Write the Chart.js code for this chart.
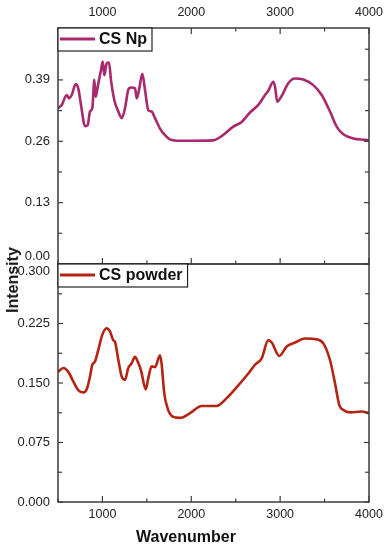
<!DOCTYPE html>
<html>
<head>
<meta charset="utf-8">
<script src="https://cdn.jsdelivr.net/npm/chart.js@4.4.0/dist/chart.umd.min.js"></script>
<style>
  body { margin: 0; background: #fff; }
  #wrap { position: relative; width: 388px; height: 550px; overflow: hidden; }
  canvas { position: absolute; left: 0; }
  #topChart { top: 0; }
  #bottomChart { top: 256px; }
  .label { position: absolute; font: bold 16px "Liberation Sans", Arial, sans-serif; color: #111; white-space: nowrap; }
  #yTitle { left: 12.5px; top: 280px; transform: translate(-50%, -50%) rotate(-90deg); }
  #xTitle { left: 186px; top: 537px; transform: translate(-50%, -50%); }
</style>
</head>
<body>
<div id="wrap">
  <canvas id="topChart" width="388" height="272"></canvas>
  <canvas id="bottomChart" width="388" height="294"></canvas>
  <div class="label" id="yTitle">Intensity</div>
  <div class="label" id="xTitle">Wavenumber</div>
</div>
<script>
// CS Np spectrum (top panel)
const npWavenumber = [500, 542, 598, 624, 654, 699, 728, 759, 804, 834, 860, 886, 909, 924, 954, 984, 1003, 1021, 1048, 1074, 1096, 1134, 1179, 1217, 1254, 1291, 1322, 1367, 1386, 1412, 1449, 1479, 1516, 1554, 1592, 1648, 1704, 1760, 1873, 1929, 2248, 2342, 2473, 2567, 2661, 2754, 2830, 2867, 2923, 2942, 2968, 3017, 3092, 3167, 3261, 3373, 3468, 3561, 3636, 3711, 3823, 3955, 4000];
const npIntensity = [0.330, 0.337, 0.358, 0.351, 0.358, 0.381, 0.372, 0.337, 0.292, 0.294, 0.323, 0.330, 0.390, 0.354, 0.383, 0.411, 0.429, 0.400, 0.425, 0.427, 0.390, 0.347, 0.323, 0.309, 0.330, 0.369, 0.374, 0.372, 0.351, 0.369, 0.403, 0.369, 0.326, 0.323, 0.309, 0.287, 0.273, 0.264, 0.261, 0.261, 0.262, 0.271, 0.291, 0.301, 0.321, 0.337, 0.358, 0.367, 0.386, 0.376, 0.344, 0.356, 0.383, 0.393, 0.391, 0.379, 0.358, 0.323, 0.291, 0.275, 0.266, 0.263, 0.262];

// CS powder spectrum (bottom panel)
const powderWavenumber = [500, 560, 616, 672, 728, 785, 823, 860, 886, 916, 954, 999, 1048, 1085, 1122, 1141, 1179, 1217, 1254, 1291, 1329, 1367, 1397, 1434, 1487, 1516, 1554, 1592, 1648, 1667, 1696, 1734, 1786, 1873, 1986, 2117, 2286, 2399, 2529, 2642, 2717, 2792, 2867, 2905, 2990, 3074, 3167, 3280, 3411, 3486, 3561, 3617, 3666, 3711, 3786, 3918, 4000];
const powderIntensity = [0.164, 0.169, 0.164, 0.152, 0.141, 0.138, 0.142, 0.158, 0.173, 0.177, 0.192, 0.211, 0.219, 0.215, 0.204, 0.202, 0.179, 0.158, 0.154, 0.169, 0.175, 0.183, 0.177, 0.166, 0.142, 0.156, 0.171, 0.170, 0.185, 0.173, 0.137, 0.118, 0.108, 0.106, 0.112, 0.121, 0.121, 0.131, 0.147, 0.162, 0.173, 0.181, 0.204, 0.201, 0.184, 0.196, 0.201, 0.206, 0.205, 0.200, 0.179, 0.150, 0.122, 0.116, 0.113, 0.114, 0.112];

// ticks
const xTicks = [1000, 2000, 3000, 4000];
const xMinorTicks = [500, 1500, 2500, 3500];
const npTicks = [0, 0.13, 0.26, 0.39];
const npTickLabels = ['0.00', '0.13', '0.26', '0.39'];
const npMinorTicks = [0.065, 0.195, 0.325, 0.455];
const powderTicks = [0, 0.075, 0.15, 0.225, 0.3];
const powderTickLabels = ['0.000', '0.075', '0.150', '0.225', '0.300'];
const powderMinorTicks = [0.0375, 0.1125, 0.1875, 0.2625];

const FONT = '"Liberation Sans", Arial, sans-serif';

// frame, inward ticks and the boxed legend inside the plot
const panelPlugin = {
  id: 'panel',
  afterDatasetsDraw(chart, args, o) {
    const { ctx, chartArea: a, scales } = chart;
    const xs = scales.x, ys = scales.y;
    ctx.save();
    ctx.strokeStyle = '#3c3c3c';
    ctx.lineWidth = 1.5;
    ctx.strokeRect(a.left, a.top, a.right - a.left, a.bottom - a.top);
    ctx.lineWidth = 1.2;
    const seg = (x1, y1, x2, y2) => { ctx.beginPath(); ctx.moveTo(x1, y1); ctx.lineTo(x2, y2); ctx.stroke(); };
    const xt = (vals, len) => vals.forEach(v => {
      const p = xs.getPixelForValue(v);
      if (o.topTicks) seg(p, a.top, p, a.top + len);
      if (o.bottomTicks) seg(p, a.bottom, p, a.bottom - len);
    });
    const yt = (vals, len) => vals.forEach(v => {
      const p = ys.getPixelForValue(v);
      seg(a.left, p, a.left + len, p);
      seg(a.right, p, a.right - len, p);
    });
    xt(xTicks, 6); xt(xMinorTicks, 3.5);
    yt(o.yMajor, 5); yt(o.yMinor, 4);

    // legend box
    const color = chart.data.datasets[0].borderColor;
    ctx.font = 'bold 16px ' + FONT;
    const tw = ctx.measureText(o.label).width;
    const bw = 42 + tw + 4, bh = 23;
    ctx.fillStyle = '#fff';
    ctx.fillRect(a.left, a.top, bw, bh);
    ctx.strokeStyle = '#222';
    ctx.lineWidth = 1.2;
    ctx.strokeRect(a.left, a.top, bw, bh);
    ctx.strokeStyle = color;
    ctx.lineWidth = 3;
    seg(a.left + 2, a.top + 11, a.left + 37, a.top + 11);
    ctx.fillStyle = '#111';
    ctx.textBaseline = 'middle';
    ctx.fillText(o.label, a.left + 41, a.top + 12);
    ctx.restore();
  }
};

function fixY(scale) { scale.width = 58; scale.paddingTop = 0; scale.paddingBottom = 0; }

function makeChart(id, opts) {
  return new Chart(document.getElementById(id), {
    type: 'line',
    data: {
      datasets: [{
        data: opts.xs.map((x, i) => ({ x: x, y: opts.ys[i] })),
        borderColor: opts.color,
        borderWidth: 2.6,
        pointRadius: 0,
        cubicInterpolationMode: 'monotone',
        fill: false
      }]
    },
    options: {
      responsive: false,
      animation: false,
      layout: { padding: opts.padding },
      plugins: {
        legend: { display: false },
        tooltip: { enabled: false },
        panel: opts.panel
      },
      scales: {
        x: {
          type: 'linear',
          position: opts.xPosition,
          min: 500, max: 4000,
          grid: { display: false, drawTicks: false },
          border: { display: false },
          ticks: {
            font: { family: FONT, size: 12.5 }, color: '#222', padding: opts.xPad, maxRotation: 0,
            callback: v => String(v)
          },
          afterBuildTicks: s => { s.ticks = xTicks.map(v => ({ value: v })); },
          afterFit: s => { s.height = opts.xHeight; s.paddingLeft = 0; s.paddingRight = 0; }
        },
        y: {
          min: 0, max: opts.yMax,
          grid: { display: false, drawTicks: false },
          border: { display: false },
          ticks: {
            font: { family: FONT, size: 13 }, color: '#222', padding: 8,
            callback: (v, i) => opts.yLabel(i)
          },
          afterBuildTicks: s => { s.ticks = opts.yTicks.map(v => ({ value: v })); },
          afterFit: fixY
        }
      }
    },
    plugins: [panelPlugin]
  });
}

makeChart('topChart', {
  xs: npWavenumber, ys: npIntensity, color: '#a82a6c',
  padding: { top: 0, left: 0, right: 19, bottom: 8 },
  xPosition: 'top', xHeight: 28, xPad: 8,
  yMax: 0.5, yTicks: npTicks,
  yLabel: i => (i === 0 ? [npTickLabels[i], ''] : npTickLabels[i]),
  panel: { label: 'CS Np', yMajor: npTicks, yMinor: npMinorTicks, topTicks: true, bottomTicks: true }
});

makeChart('bottomChart', {
  xs: powderWavenumber, ys: powderIntensity, color: '#b52412',
  padding: { top: 8, left: 0, right: 19, bottom: 0 },
  xPosition: 'bottom', xHeight: 48, xPad: 5,
  yMax: 0.3, yTicks: powderTicks,
  yLabel: i => (i === powderTickLabels.length - 1 ? ['', powderTickLabels[i]] : powderTickLabels[i]),
  panel: { label: 'CS powder', yMajor: powderTicks, yMinor: powderMinorTicks, topTicks: false, bottomTicks: true }
});
</script>
</body>
</html>
